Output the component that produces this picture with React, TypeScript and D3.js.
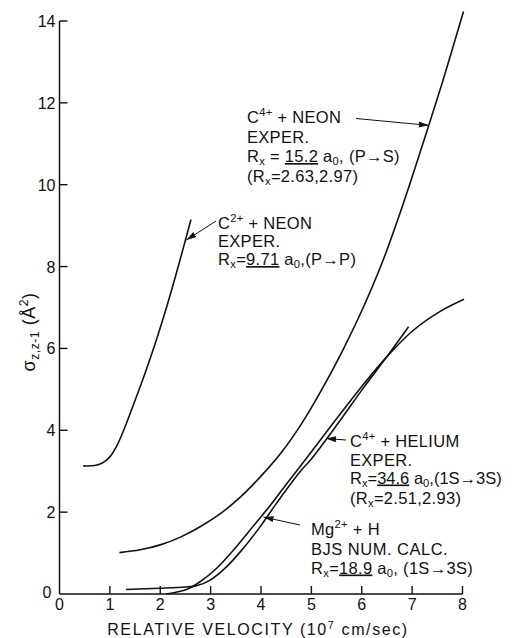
import React from "react";
import * as d3 from "d3";

// ---- data (velocity in 10^7 cm/s, cross section in Å^2) ----
const C2_NEON_V = [0.47, 0.7, 0.85, 1.0, 1.15, 1.3, 1.5, 1.7, 1.9, 2.1, 2.3, 2.45, 2.61];
const C2_NEON_S = [3.13, 3.14, 3.2, 3.35, 3.65, 4.08, 4.73, 5.4, 6.12, 6.9, 7.75, 8.42, 9.15];

const C4_NEON_V = [1.19, 1.6, 2.0, 2.4, 2.8, 3.2, 3.6, 4.0, 4.4, 4.8, 5.2, 5.6, 6.0, 6.4, 6.8, 7.2, 7.6, 8.02];
const C4_NEON_S = [1.01, 1.08, 1.2, 1.39, 1.65, 1.97, 2.38, 2.88, 3.45, 4.15, 4.98, 5.9, 6.92, 8.08, 9.45, 10.95, 12.5, 14.23];

const C4_HE_V = [2.12, 2.33, 2.52, 2.79, 3.12, 3.45, 3.78, 4.11, 4.44, 4.8, 5.43, 6.0, 6.5, 7.03, 7.55, 8.03];
const C4_HE_S = [0.0, 0.05, 0.11, 0.3, 0.63, 1.07, 1.56, 2.05, 2.58, 3.15, 4.17, 5.07, 5.8, 6.45, 6.9, 7.2];

const MG_H_V = [1.32, 2.0, 2.5, 2.72, 2.99, 3.32, 3.65, 3.98, 4.31, 4.77, 5.0, 5.53, 6.03, 6.5, 6.93];
const MG_H_S = [0.11, 0.14, 0.17, 0.2, 0.34, 0.67, 1.12, 1.64, 2.22, 2.98, 3.3, 4.17, 5.03, 5.8, 6.53];

const X_TICKS = [0, 1, 2, 3, 4, 5, 6, 7, 8];
const Y_TICKS = [0, 2, 4, 6, 8, 10, 12, 14];

// arrow tips (data coords) for the labels
const ARROW_TIP_V = [7.33, 2.52, 5.29, 4.05];
const ARROW_TIP_S = [11.45, 8.65, 3.8, 1.88];

type Seg = { t: string; sub?: boolean; sup?: boolean; u?: boolean };

const FONT = "'Liberation Sans', Arial, sans-serif";
const INK = "#111";

function Rich({ x, y, segs, size, anchor = "start", ls = 0.3 }: { x: number; y: number; segs: (Seg | string)[]; size: number; anchor?: string; ls?: number }) {
  let off = 0;
  return (
    <text x={x} y={y} fontSize={size} fontFamily={FONT} fill={INK} textAnchor={anchor} letterSpacing={ls}>
      {segs.map((s0, i) => {
        const s: Seg = typeof s0 === "string" ? { t: s0 } : s0;
        const target = s.sub ? size * 0.2 : s.sup ? -size * 0.4 : 0;
        const dy = target - off;
        off = target;
        return (
          <tspan key={i} dy={dy} fontSize={s.sub || s.sup ? size * 0.68 : size} style={s.u ? { textDecoration: "underline" } : undefined}>
            {s.t}
          </tspan>
        );
      })}
    </text>
  );
}

export default function App() {
  const W = 516, H = 638;
  const x = d3.scaleLinear().domain([0, 8]).range([59.5, 462.5]);
  const y = d3.scaleLinear().domain([0, 14]).range([594, 21]);
  const line = d3
    .line<[number, number]>()
    .x((d) => x(d[0]))
    .y((d) => y(d[1]))
    .curve(d3.curveCatmullRom.alpha(0.5));
  const zip = (a: number[], b: number[]) => a.map((v, i) => [v, b[i]] as [number, number]);
  const series = [
    zip(C2_NEON_V, C2_NEON_S),
    zip(C4_NEON_V, C4_NEON_S),
    zip(C4_HE_V, C4_HE_S),
    zip(MG_H_V, MG_H_S),
  ];
  const tails: [number, number][] = [
    [356, 118.5],
    [216, 221],
    [346, 440],
    [300, 525],
  ];
  const fs = 16.5;
  return (
    <svg width={W} height={H} style={{ position: "absolute", left: 0, top: 0, background: "#fff" }}>
      <defs>
        <marker id="ah" markerUnits="userSpaceOnUse" markerWidth={12} markerHeight={8} refX={10} refY={4} orient="auto">
          <path d="M0,1 L10,4 L0,7 Z" fill={INK} />
        </marker>
      </defs>
      {/* axes */}
      <line x1={x(0)} x2={x(8)} y1={y(0)} y2={y(0)} stroke={INK} strokeWidth={1.5} />
      <line x1={x(0)} x2={x(0)} y1={y(0)} y2={y(14)} stroke={INK} strokeWidth={1.5} />
      {X_TICKS.filter((t) => t > 0).map((t) => (
        <line key={"xt" + t} x1={x(t)} x2={x(t)} y1={y(0)} y2={y(0) - 8} stroke={INK} strokeWidth={1.4} />
      ))}
      {Y_TICKS.filter((t) => t > 0).map((t) => (
        <line key={"yt" + t} x1={x(0)} x2={x(0) + 8} y1={y(t)} y2={y(t)} stroke={INK} strokeWidth={1.4} />
      ))}
      {X_TICKS.map((t) => (
        <text key={"xl" + t} x={x(t)} y={y(0) + 16} fontSize={16} fontFamily={FONT} fill={INK} textAnchor="middle">
          {t}
        </text>
      ))}
      {Y_TICKS.map((t) => (
        <text key={"yl" + t} x={t === 0 ? x(0) - 8 : x(0) - 4} y={t === 0 ? y(t) + 4 : y(t) + 6} fontSize={16} fontFamily={FONT} fill={INK} textAnchor="end">
          {t}
        </text>
      ))}
      <Rich x={258} y={635} size={16} anchor="middle" ls={1.6} segs={["RELATIVE VELOCITY (10", { t: "7", sup: true }, " cm/sec)"]} />
      <g transform="translate(35,332) rotate(-90)">
        <Rich x={0} y={0} size={18} anchor="middle" ls={0.5} segs={["σ", { t: "z,z-1", sub: true }, " (Å", { t: "2", sup: true }, ")"]} />
      </g>
      {/* curves */}
      {series.map((s, i) => (
        <path key={"c" + i} d={line(s) || ""} fill="none" stroke={INK} strokeWidth={1.6} />
      ))}
      {/* arrows */}
      {tails.map((tl, i) => (
        <line key={"a" + i} x1={tl[0]} y1={tl[1]} x2={x(ARROW_TIP_V[i])} y2={y(ARROW_TIP_S[i])} stroke={INK} strokeWidth={1} markerEnd="url(#ah)" />
      ))}
      {/* annotations */}
      <Rich x={247} y={123} size={fs} segs={["C", { t: "4+", sup: true }, " + NEON"]} />
      <Rich x={247} y={142.5} size={fs} segs={["EXPER."]} />
      <Rich x={247} y={162} size={fs} segs={["R", { t: "x", sub: true }, " = ", { t: "15.2", u: true }, " a", { t: "0", sub: true }, ", (P→S)"]} />
      <Rich x={247} y={181.5} size={fs} segs={["(R", { t: "x", sub: true }, "=2.63,2.97)"]} />

      <Rich x={218} y={229} size={fs} segs={["C", { t: "2+", sup: true }, " + NEON"]} />
      <Rich x={218} y={247} size={fs} segs={["EXPER."]} />
      <Rich x={218} y={265} size={fs} segs={["R", { t: "x", sub: true }, "=", { t: "9.71", u: true }, " a", { t: "0", sub: true }, ",(P→P)"]} />

      <Rich x={350} y={447} size={fs} segs={["C", { t: "4+", sup: true }, " + HELIUM"]} />
      <Rich x={350} y={465.5} size={fs} segs={["EXPER."]} />
      <Rich x={350} y={483.5} size={fs} ls={0} segs={["R", { t: "x", sub: true }, "=", { t: "34.6", u: true }, " a", { t: "0", sub: true }, ",(1S→3S)"]} />
      <Rich x={350} y={504} size={fs} segs={["(R", { t: "x", sub: true }, "=2.51,2.93)"]} />

      <Rich x={311} y={535} size={fs} segs={["Mg", { t: "2+", sup: true }, " + H"]} />
      <Rich x={311} y={554.5} size={fs} ls={0.5} segs={["BJS  NUM. CALC."]} />
      <Rich x={311} y={573.5} size={fs} segs={["R", { t: "x", sub: true }, "=", { t: "18.9", u: true }, " a", { t: "0", sub: true }, ", (1S→3S)"]} />
    </svg>
  );
}
